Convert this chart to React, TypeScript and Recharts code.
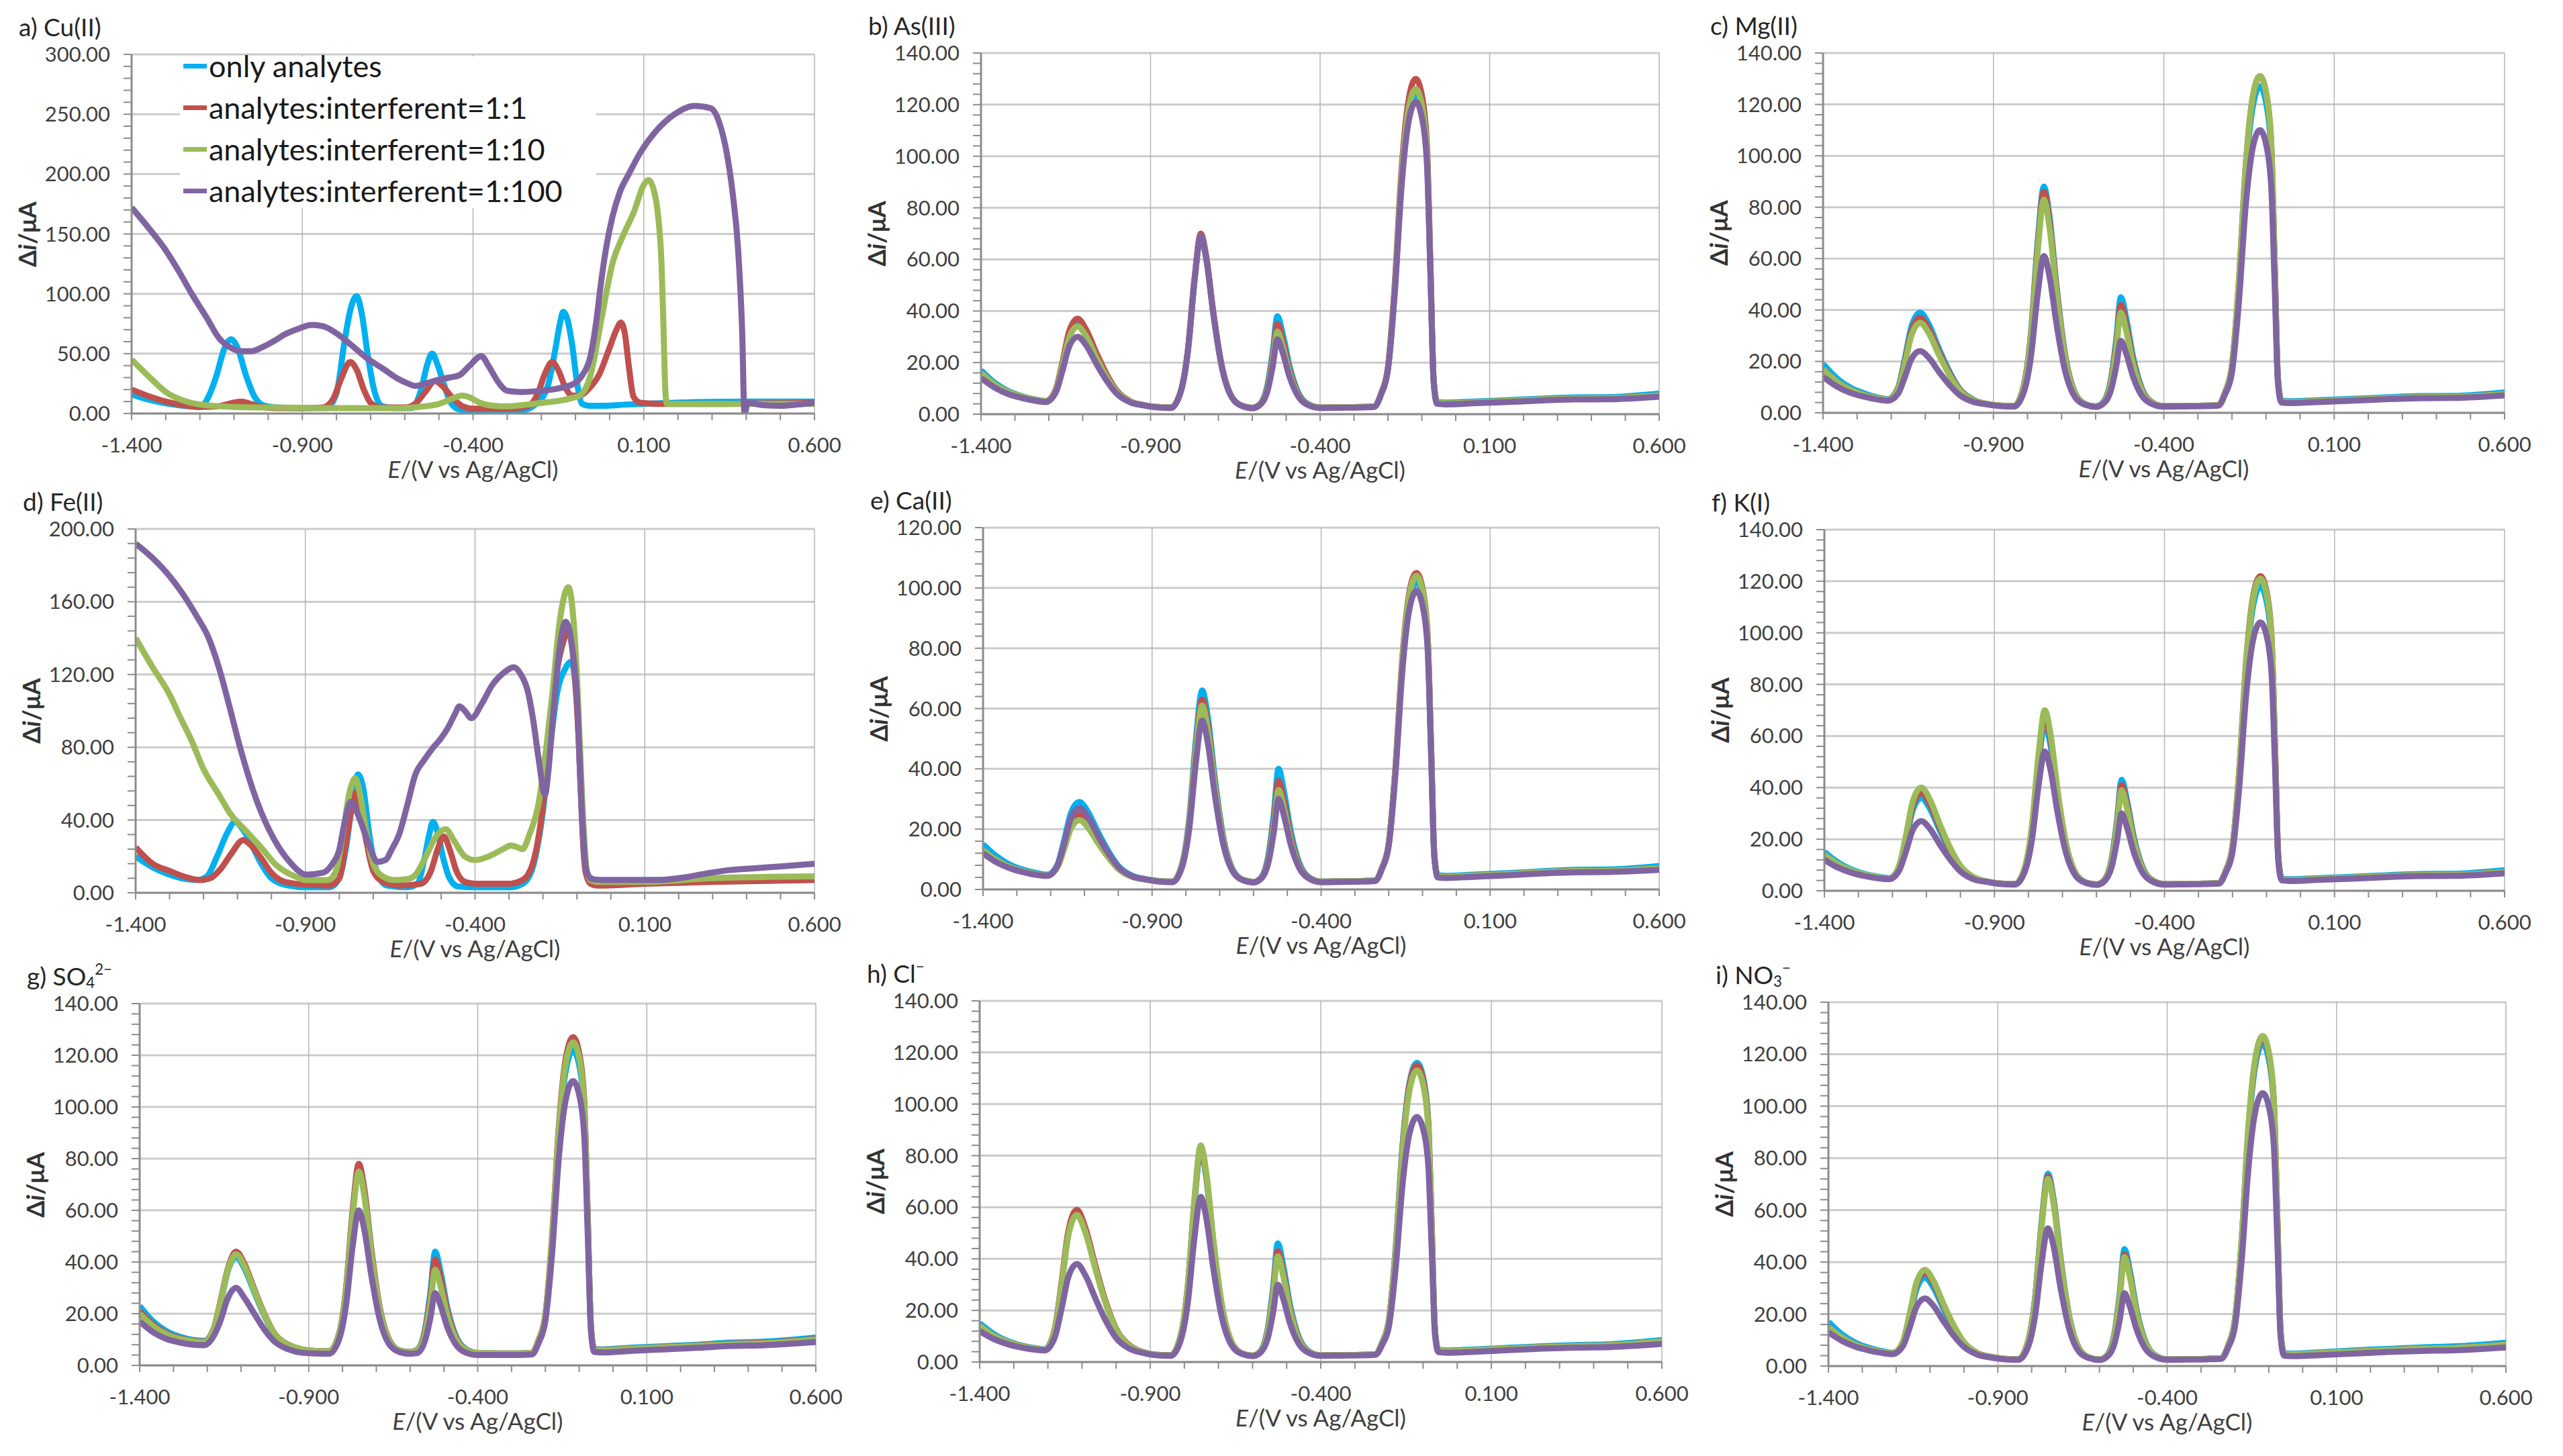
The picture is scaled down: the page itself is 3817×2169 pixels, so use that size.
import React from 'react';
import { LineChart, Line, XAxis, YAxis, CartesianGrid } from 'recharts';

const FONT = 'Lato, "Open Sans", "DejaVu Sans", sans-serif';
const TEXT = '#404040';
const AXIS = '#8c8c8c';

const NAMES = ['only analytes', 'analytes:interferent=1:1', 'analytes:interferent=1:10', 'analytes:interferent=1:100'];
const COLORS = ['#00B0F0', '#C0504D', '#9BBB59', '#8064A2'];

const X_TICKS = [-1.4, -1.3, -1.2, -1.1, -1.0, -0.9, -0.8, -0.7, -0.6, -0.5, -0.4, -0.3, -0.2, -0.1, 0, 0.1, 0.2, 0.3, 0.4, 0.5, 0.6];
const X_MAJOR = [-1.4, -0.9, -0.4, 0.1, 0.6];

const Y_MAJOR_A = [0, 50, 100, 150, 200, 250, 300];
const Y_MAJOR_D = [0, 40, 80, 120, 160, 200];
const Y_MAJOR_E = [0, 20, 40, 60, 80, 100, 120];
const Y_MAJOR_STD = [0, 20, 40, 60, 80, 100, 120, 140];

// potentials shared by panels b, c, e-i
const X_STD = [
  -1.40, -1.36, -1.32, -1.28, -1.24, -1.21,
  -1.18, -1.16, -1.14, -1.115, -1.09, -1.06, -1.03, -1.00, -0.96, -0.92,
  -0.88, -0.84,
  -0.81, -0.79, -0.77, -0.752, -0.735, -0.715, -0.69, -0.66, -0.63,
  -0.60,
  -0.58, -0.555, -0.54, -0.526, -0.51, -0.49, -0.465, -0.44,
  -0.40, -0.34, -0.28, -0.24,
  -0.22, -0.20, -0.18, -0.16, -0.14, -0.118, -0.10, -0.085, -0.075, -0.065,
  -0.055, -0.03, 0.05, 0.15, 0.25, 0.35, 0.45, 0.60,
];

// a) Cu(II) — [E, Δi]
const A_BLUE = [
  [-1.40, 16], [-1.35, 11.5], [-1.30, 8.5], [-1.25, 6.5], [-1.20, 5.5], [-1.17, 17], [-1.15, 33], [-1.13, 53], [-1.109, 62],
  [-1.09, 55], [-1.064, 31], [-1.04, 14], [-1.016, 7], [-0.98, 5], [-0.90, 4.5], [-0.83, 4.5], [-0.80, 17], [-0.776, 61],
  [-0.758, 88], [-0.741, 98], [-0.725, 82], [-0.709, 50], [-0.69, 20], [-0.665, 6], [-0.63, 4.5], [-0.58, 4.5], [-0.552, 20],
  [-0.535, 40], [-0.52, 50], [-0.503, 40], [-0.485, 24], [-0.465, 9], [-0.44, 3.5], [-0.40, 2.5], [-0.30, 2.5], [-0.25, 3],
  [-0.22, 7], [-0.20, 12], [-0.18, 24], [-0.16, 52], [-0.145, 76], [-0.136, 85], [-0.125, 80], [-0.11, 58], [-0.095, 25],
  [-0.08, 8], [-0.06, 6.5], [-0.02, 6.5], [0.05, 7.5], [0.14, 8.5], [0.25, 9.5], [0.40, 10], [0.60, 10],
];
const A_RED = [
  [-1.40, 20], [-1.35, 14.5], [-1.30, 10], [-1.25, 7], [-1.20, 5.5], [-1.15, 6], [-1.11, 8.5], [-1.08, 10], [-1.05, 8],
  [-1.02, 5.5], [-0.98, 4.5], [-0.90, 4.5], [-0.84, 5], [-0.81, 12], [-0.785, 30], [-0.76, 43], [-0.74, 36], [-0.72, 20],
  [-0.70, 9], [-0.67, 5], [-0.60, 5], [-0.57, 8], [-0.54, 18], [-0.512, 27], [-0.49, 23], [-0.46, 13], [-0.43, 6], [-0.40, 4],
  [-0.30, 4], [-0.24, 6], [-0.21, 17], [-0.19, 33], [-0.168, 43], [-0.15, 36], [-0.13, 22], [-0.11, 15], [-0.09, 15],
  [-0.06, 21], [-0.03, 33], [0.0, 55], [0.02, 70], [0.033, 76], [0.045, 66], [0.056, 40], [0.07, 14], [0.09, 9], [0.15, 8],
  [0.30, 8], [0.45, 8.5], [0.60, 9],
];
const A_GREEN = [
  [-1.40, 45], [-1.35, 31], [-1.30, 18], [-1.25, 11], [-1.20, 7.5], [-1.10, 5.5], [-1.00, 5], [-0.80, 4.5], [-0.62, 4.5],
  [-0.56, 5.5], [-0.50, 8], [-0.46, 12.5], [-0.432, 15], [-0.41, 13.5], [-0.38, 9], [-0.34, 6.5], [-0.30, 6], [-0.24, 7.5],
  [-0.18, 9.5], [-0.14, 11], [-0.11, 13], [-0.088, 15], [-0.056, 32], [-0.024, 79], [0.008, 125], [0.04, 149], [0.072, 169],
  [0.10, 191], [0.114, 195], [0.13, 186], [0.142, 165], [0.152, 125], [0.158, 70], [0.163, 20], [0.168, 8], [0.20, 8],
  [0.40, 8], [0.60, 8],
];
const A_PURPLE = [
  [-1.40, 172], [-1.35, 155], [-1.304, 138], [-1.26, 118], [-1.224, 100], [-1.18, 80], [-1.144, 63], [-1.11, 55], [-1.08, 52],
  [-1.05, 52], [-1.02, 55], [-0.98, 61], [-0.952, 66], [-0.91, 71], [-0.872, 74], [-0.84, 73], [-0.80, 67], [-0.76, 58],
  [-0.71, 46], [-0.664, 37.5], [-0.62, 29], [-0.59, 25], [-0.568, 23], [-0.54, 25], [-0.504, 28], [-0.47, 30], [-0.44, 32],
  [-0.41, 40], [-0.376, 48], [-0.355, 40], [-0.328, 27], [-0.30, 19], [-0.26, 18], [-0.20, 19], [-0.15, 21], [-0.104, 25],
  [-0.08, 32], [-0.056, 48], [-0.04, 75], [-0.024, 112], [-0.008, 142], [0.008, 164], [0.03, 185], [0.056, 200], [0.09, 218],
  [0.136, 236], [0.19, 250], [0.248, 257], [0.296, 255], [0.32, 244], [0.344, 216], [0.36, 185], [0.376, 138], [0.388, 70],
  [0.395, 0], [0.405, 9], [0.45, 7], [0.50, 6.5], [0.55, 7.5], [0.60, 9],
];

// d) Fe(II) — [E, Δi]
const D_BLUE = [
  [-1.40, 20], [-1.35, 14], [-1.30, 10], [-1.25, 7.5], [-1.22, 7], [-1.19, 9], [-1.16, 20], [-1.13, 33], [-1.107, 39],
  [-1.085, 35], [-1.06, 27], [-1.03, 16], [-1.00, 8], [-0.95, 4], [-0.90, 3], [-0.83, 3], [-0.80, 8], [-0.78, 25], [-0.76, 52],
  [-0.745, 65], [-0.73, 58], [-0.71, 30], [-0.69, 12], [-0.66, 4], [-0.60, 3], [-0.57, 5], [-0.55, 18], [-0.535, 32],
  [-0.524, 39], [-0.51, 33], [-0.495, 20], [-0.475, 8], [-0.45, 3.5], [-0.40, 3], [-0.30, 3], [-0.26, 5], [-0.23, 14],
  [-0.20, 45], [-0.18, 78], [-0.16, 108], [-0.135, 123], [-0.117, 127], [-0.10, 105], [-0.088, 55], [-0.078, 18],
  [-0.065, 9], [-0.04, 7], [0.10, 7], [0.30, 7.5], [0.60, 8],
];
const D_RED = [
  [-1.40, 25], [-1.35, 16], [-1.30, 12], [-1.25, 8.5], [-1.21, 7], [-1.18, 8], [-1.15, 13], [-1.12, 21], [-1.083, 29],
  [-1.06, 26], [-1.03, 19], [-1.00, 11], [-0.96, 6], [-0.90, 4.5], [-0.83, 4], [-0.80, 8], [-0.78, 28], [-0.765, 45],
  [-0.753, 55], [-0.74, 48], [-0.72, 28], [-0.70, 12], [-0.67, 6], [-0.62, 4], [-0.56, 5], [-0.53, 12], [-0.51, 24],
  [-0.492, 31], [-0.475, 24], [-0.455, 12], [-0.43, 6], [-0.40, 5], [-0.30, 5], [-0.26, 7], [-0.23, 16], [-0.20, 48],
  [-0.18, 85], [-0.16, 120], [-0.14, 138], [-0.125, 144], [-0.11, 128], [-0.095, 85], [-0.085, 40], [-0.075, 12],
  [-0.06, 5], [-0.04, 4], [0.10, 5], [0.30, 6], [0.60, 7],
];
const D_GREEN = [
  [-1.40, 140], [-1.35, 124], [-1.30, 109], [-1.27, 97], [-1.236, 84], [-1.20, 68], [-1.155, 54], [-1.123, 44], [-1.075, 34],
  [-1.026, 24], [-0.99, 16], [-0.962, 12], [-0.93, 9], [-0.898, 7], [-0.834, 7], [-0.81, 12], [-0.79, 32], [-0.77, 55],
  [-0.753, 63], [-0.74, 55], [-0.72, 33], [-0.70, 16], [-0.672, 9], [-0.64, 7], [-0.60, 7.5], [-0.575, 10], [-0.545, 20],
  [-0.515, 31], [-0.487, 35], [-0.46, 28], [-0.43, 20], [-0.40, 18], [-0.36, 20], [-0.318, 24], [-0.294, 26], [-0.275, 25],
  [-0.26, 24], [-0.24, 32], [-0.213, 49], [-0.19, 80], [-0.173, 108], [-0.15, 150], [-0.125, 168], [-0.11, 150], [-0.10, 120],
  [-0.084, 50], [-0.072, 14], [-0.06, 7], [-0.04, 6], [0.10, 6], [0.30, 8], [0.60, 9],
];
const D_PURPLE = [
  [-1.40, 192], [-1.35, 184], [-1.30, 174], [-1.26, 164], [-1.22, 152], [-1.187, 141], [-1.155, 124], [-1.123, 102],
  [-1.091, 79], [-1.042, 50], [-0.994, 30], [-0.946, 17], [-0.898, 10], [-0.849, 11], [-0.82, 16], [-0.801, 23], [-0.785, 38],
  [-0.766, 50], [-0.745, 43], [-0.729, 35], [-0.71, 25], [-0.688, 17], [-0.664, 18], [-0.645, 24], [-0.624, 32], [-0.60, 48],
  [-0.576, 65], [-0.55, 73], [-0.527, 79], [-0.50, 85], [-0.479, 91], [-0.46, 98], [-0.446, 102.5], [-0.43, 100],
  [-0.411, 96], [-0.38, 104], [-0.35, 114], [-0.315, 121], [-0.286, 124], [-0.265, 120], [-0.245, 111], [-0.228, 94],
  [-0.213, 74], [-0.194, 54], [-0.185, 65], [-0.173, 91], [-0.155, 128], [-0.133, 149], [-0.118, 140], [-0.10, 108],
  [-0.084, 40], [-0.072, 12], [-0.055, 7.5], [-0.028, 7], [0.133, 7], [0.20, 8], [0.294, 11], [0.35, 12.5], [0.423, 13.5],
  [0.50, 14.5], [0.60, 16],
];

// b) As(III)
const B_BLUE = [17, 12.2, 9.0, 7.0, 5.7, 5.1,
  9.1, 19.1, 30.4, 35, 31.1, 22.6, 14.9, 8.9, 4.9, 3.5,
  2.8, 2.6,
  9.2, 24.4, 52.4, 69, 59.7, 39.1, 18.5, 6.5, 3.2,
  2.5,
  3.6, 11.4, 23.8, 38, 30.9, 18.5, 8.5, 4.3,
  2.6, 2.7, 2.8, 3.0,
  7.8, 17.5, 47.8, 90.1, 115.5, 124, 118.0, 99.8, 57.5, 12.7,
  4.8, 4.5, 4.9, 5.4, 6.0, 6.5, 6.6, 8.0];
const B_RED = [16, 11.6, 8.6, 6.8, 5.6, 5.0,
  9.4, 20.1, 32.1, 37, 32.8, 23.8, 15.6, 9.2, 5.0, 3.5,
  2.8, 2.6,
  9.3, 24.8, 53.1, 70, 60.6, 39.6, 18.7, 6.6, 3.2,
  2.5,
  3.5, 10.6, 22.0, 35, 28.5, 17.1, 8.0, 4.1,
  2.6, 2.7, 2.8, 3.0,
  8.1, 18.2, 50.0, 94.4, 121.1, 130, 123.7, 104.6, 60.2, 13.2,
  4.5, 4.2, 4.6, 5.1, 5.7, 6.1, 6.2, 7.3];
const B_GREEN = [16, 11.6, 8.6, 6.8, 5.6, 5.0,
  8.9, 18.7, 29.6, 34, 30.2, 22.0, 14.5, 8.7, 4.9, 3.5,
  2.8, 2.6,
  9.2, 24.4, 52.4, 69, 59.7, 39.1, 18.5, 6.5, 3.2,
  2.5,
  3.4, 9.9, 20.2, 32, 26.1, 15.8, 7.5, 4.0,
  2.6, 2.7, 2.8, 3.0,
  7.9, 17.8, 48.5, 91.6, 117.4, 126, 119.9, 101.4, 58.4, 12.8,
  4.5, 4.2, 4.6, 5.1, 5.7, 6.1, 6.2, 7.3];
const B_PURPLE = [14, 10.3, 7.8, 6.3, 5.2, 4.7,
  8.3, 16.7, 26.2, 30, 26.7, 19.6, 13.1, 8.0, 4.6, 3.4,
  2.6, 2.4,
  9.2, 24.4, 52.4, 69, 59.7, 39.1, 18.5, 6.5, 3.2,
  2.3,
  3.3, 9.1, 18.4, 29, 23.7, 14.4, 7.0, 3.8,
  2.4, 2.5, 2.6, 2.8,
  7.7, 17.2, 46.7, 88.0, 112.7, 121, 115.1, 97.4, 56.1, 12.4,
  4.0, 3.8, 4.2, 4.7, 5.3, 5.7, 5.8, 6.8];

// c) Mg(II)
const C_BLUE = [19, 13.5, 9.8, 7.6, 6.0, 5.3,
  9.7, 21.1, 33.8, 39, 34.5, 25.0, 16.3, 9.5, 5.2, 3.5,
  2.8, 2.6,
  11.1, 30.7, 66.6, 88, 76.0, 49.5, 23.0, 7.6, 3.4,
  2.5,
  3.8, 13.1, 28.0, 45, 36.5, 21.6, 9.7, 4.6,
  2.6, 2.7, 2.8, 3.0,
  8.0, 17.9, 48.9, 92.3, 118.3, 127, 120.8, 102.2, 58.8, 12.9,
  4.8, 4.5, 4.9, 5.4, 6.0, 6.5, 6.6, 8.0];
const C_RED = [17, 12.2, 9.0, 7.0, 5.7, 5.1,
  9.4, 20.1, 32.1, 37, 32.8, 23.8, 15.6, 9.2, 5.0, 3.5,
  2.8, 2.6,
  10.9, 30.1, 65.1, 86, 74.3, 48.4, 22.5, 7.5, 3.3,
  2.5,
  3.7, 12.4, 26.2, 42, 34.1, 20.3, 9.2, 4.5,
  2.6, 2.7, 2.8, 3.0,
  8.1, 18.4, 50.4, 95.2, 122.0, 131, 124.6, 105.4, 60.6, 13.2,
  4.5, 4.2, 4.6, 5.1, 5.7, 6.1, 6.2, 7.3];
const C_GREEN = [17, 12.2, 9.0, 7.0, 5.7, 5.1,
  9.1, 19.1, 30.4, 35, 31.1, 22.6, 14.9, 8.9, 4.9, 3.5,
  2.8, 2.6,
  10.5, 29.1, 62.9, 83, 71.7, 46.8, 21.8, 7.3, 3.3,
  2.5,
  3.6, 11.6, 24.4, 39, 31.7, 18.9, 8.7, 4.3,
  2.6, 2.7, 2.8, 3.0,
  8.1, 18.4, 50.4, 95.2, 122.0, 131, 124.6, 105.4, 60.6, 13.2,
  4.5, 4.2, 4.6, 5.1, 5.7, 6.1, 6.2, 7.3];
const C_PURPLE = [14, 10.3, 7.8, 6.3, 5.2, 4.7,
  7.4, 13.9, 21.1, 24, 21.5, 16.0, 11.0, 7.0, 4.3, 3.3,
  2.6, 2.4,
  8.4, 21.8, 46.4, 61, 52.8, 34.7, 16.5, 6.0, 3.1,
  2.3,
  3.3, 8.9, 17.8, 28, 22.9, 14.0, 6.8, 3.8,
  2.4, 2.5, 2.6, 2.8,
  7.3, 15.8, 42.6, 80.0, 102.5, 110, 104.6, 88.6, 51.2, 11.6,
  4.0, 3.8, 4.2, 4.7, 5.3, 5.7, 5.8, 6.8];

// e) Ca(II)
const E_BLUE = [15, 11.0, 8.2, 6.5, 5.4, 4.9,
  8.2, 16.3, 25.3, 29, 25.8, 19.0, 12.8, 7.8, 4.6, 3.4,
  2.8, 2.6,
  8.9, 23.5, 50.1, 66, 57.1, 37.4, 17.7, 6.3, 3.1,
  2.5,
  3.6, 11.9, 25.0, 40, 32.5, 19.4, 8.9, 4.4,
  2.6, 2.7, 2.8, 3.0,
  7.0, 14.9, 39.6, 74.3, 95.1, 102, 97.1, 82.2, 47.6, 10.9,
  4.8, 4.5, 4.9, 5.4, 6.0, 6.5, 6.6, 7.8];
const E_RED = [13, 9.7, 7.4, 6.0, 5.0, 4.6,
  7.6, 14.3, 21.9, 25, 22.3, 16.6, 11.4, 7.2, 4.3, 3.3,
  2.8, 2.6,
  8.6, 22.5, 47.9, 63, 54.5, 35.8, 17.0, 6.1, 3.1,
  2.5,
  3.5, 10.9, 22.6, 36, 29.3, 17.6, 8.2, 4.2,
  2.6, 2.7, 2.8, 3.0,
  7.1, 15.2, 40.7, 76.4, 97.9, 105, 99.9, 84.6, 48.9, 11.2,
  4.5, 4.2, 4.6, 5.1, 5.7, 6.1, 6.2, 7.0];
const E_GREEN = [13, 9.7, 7.4, 6.0, 5.0, 4.6,
  7.3, 13.4, 20.2, 23, 20.6, 15.4, 10.7, 6.8, 4.2, 3.3,
  2.8, 2.6,
  8.4, 21.8, 46.4, 61, 52.8, 34.7, 16.5, 6.0, 3.1,
  2.5,
  3.4, 10.1, 20.8, 33, 26.9, 16.2, 7.7, 4.0,
  2.6, 2.7, 2.8, 3.0,
  7.0, 15.1, 40.4, 75.7, 96.9, 104, 99.0, 83.8, 48.5, 11.1,
  4.5, 4.2, 4.6, 5.1, 5.7, 6.1, 6.2, 7.0];
const E_PURPLE = [12, 9.0, 7.0, 5.7, 4.8, 4.5,
  7.9, 15.3, 23.6, 27, 24.1, 17.8, 12.1, 7.5, 4.4, 3.4,
  2.6, 2.4,
  7.9, 20.2, 42.6, 56, 48.5, 31.9, 15.3, 5.7, 3.0,
  2.3,
  3.3, 9.4, 19.0, 30, 24.5, 14.9, 7.2, 3.9,
  2.4, 2.5, 2.6, 2.8,
  6.8, 14.5, 38.5, 72.1, 92.3, 99, 94.2, 79.8, 46.2, 10.7,
  4.0, 3.8, 4.2, 4.7, 5.3, 5.7, 5.8, 6.5];

// f) K(I)
const F_BLUE = [15, 11.0, 8.2, 6.5, 5.4, 4.9,
  9.2, 19.6, 31.3, 36, 31.9, 23.2, 15.2, 9.0, 5.0, 3.5,
  2.8, 2.6,
  8.8, 23.1, 49.4, 65, 56.3, 36.9, 17.5, 6.3, 3.1,
  2.5,
  3.7, 12.6, 26.8, 43, 34.9, 20.7, 9.4, 4.5,
  2.6, 2.7, 2.8, 3.0,
  7.6, 16.8, 45.6, 85.8, 110.0, 118, 112.3, 95.0, 54.8, 12.2,
  4.8, 4.5, 4.9, 5.4, 6.0, 6.5, 6.6, 8.0];
const F_RED = [13, 9.7, 7.4, 6.0, 5.0, 4.6,
  9.5, 20.6, 33.0, 38, 33.6, 24.4, 15.9, 9.3, 5.1, 3.5,
  2.8, 2.6,
  9.1, 24.1, 51.6, 68, 58.8, 38.5, 18.2, 6.4, 3.2,
  2.5,
  3.7, 12.1, 25.6, 41, 33.3, 19.8, 9.0, 4.4,
  2.6, 2.7, 2.8, 3.0,
  7.8, 17.3, 47.0, 88.7, 113.7, 122, 116.1, 98.2, 56.6, 12.5,
  4.5, 4.2, 4.6, 5.1, 5.7, 6.1, 6.2, 7.3];
const F_GREEN = [14, 10.3, 7.8, 6.3, 5.2, 4.7,
  9.8, 21.5, 34.7, 40, 35.4, 25.6, 16.6, 9.7, 5.2, 3.6,
  2.8, 2.6,
  9.3, 24.8, 53.1, 70, 60.6, 39.6, 18.7, 6.6, 3.2,
  2.5,
  3.6, 11.6, 24.4, 39, 31.7, 18.9, 8.7, 4.3,
  2.6, 2.7, 2.8, 3.0,
  7.7, 17.2, 46.7, 88.0, 112.7, 121, 115.1, 97.4, 56.1, 12.4,
  4.5, 4.2, 4.6, 5.1, 5.7, 6.1, 6.2, 7.3];
const F_PURPLE = [12, 9.0, 7.0, 5.7, 4.8, 4.5,
  7.9, 15.3, 23.6, 27, 24.1, 17.8, 12.1, 7.5, 4.4, 3.4,
  2.6, 2.4,
  7.7, 19.5, 41.1, 54, 46.8, 30.8, 14.9, 5.6, 3.0,
  2.3,
  3.3, 9.4, 19.0, 30, 24.5, 14.9, 7.2, 3.9,
  2.4, 2.5, 2.6, 2.8,
  7.0, 15.1, 40.4, 75.7, 96.9, 104, 99.0, 83.8, 48.5, 11.1,
  4.0, 3.8, 4.2, 4.7, 5.3, 5.7, 5.8, 6.8];

// g) SO4 2-
const G_BLUE = [23, 17.0, 13.2, 11.0, 9.8, 9.5,
  14.4, 24.5, 36.1, 42, 37.5, 28.0, 18.9, 11.8, 8.0, 6.1,
  5.6, 5.5,
  12.2, 28.8, 59.0, 77, 66.9, 44.6, 22.3, 9.3, 5.7,
  5.2,
  6.0, 14.6, 28.3, 44, 36.2, 22.4, 11.5, 6.8,
  4.8, 4.6, 4.6, 4.8,
  9.7, 19.0, 48.3, 89.2, 113.8, 122, 116.2, 98.6, 57.7, 14.4,
  6.3, 6.2, 6.8, 7.4, 8.0, 8.8, 9.2, 10.8];
const G_RED = [21, 15.8, 12.4, 10.5, 9.5, 9.2,
  14.7, 25.5, 37.0, 44, 39.3, 29.2, 19.6, 12.1, 8.0, 6.2,
  5.6, 5.5,
  12.3, 29.1, 59.8, 78, 67.8, 45.2, 22.5, 9.4, 5.7,
  5.2,
  5.9, 13.9, 26.5, 41, 33.8, 21.1, 11.0, 6.6,
  4.8, 4.6, 4.6, 4.8,
  9.9, 19.6, 50.1, 92.8, 118.5, 127, 120.9, 102.6, 59.9, 14.8,
  6.2, 6.0, 6.5, 7.1, 7.7, 8.4, 8.8, 10.2];
const G_GREEN = [20, 15.2, 12.0, 10.2, 9.3, 9.0,
  14.5, 25.0, 36.5, 43, 38.4, 28.6, 19.3, 11.9, 8.0, 6.2,
  5.6, 5.5,
  12.0, 28.1, 57.5, 75, 65.2, 43.5, 21.8, 9.2, 5.7,
  5.2,
  5.8, 12.9, 24.1, 37, 30.6, 19.3, 10.3, 6.4,
  4.8, 4.6, 4.6, 4.8,
  9.8, 19.4, 49.4, 91.4, 116.6, 125, 119.0, 101.0, 59.0, 14.6,
  6.0, 5.9, 6.4, 7.0, 7.6, 8.2, 8.6, 10.0];
const G_PURPLE = [17, 12.8, 10.2, 8.8, 8.0, 7.8,
  11.6, 17.7, 25.8, 30, 26.1, 19.8, 13.7, 9.1, 6.2, 4.9,
  4.6, 4.5,
  10.1, 22.8, 46.1, 60, 52.2, 35.0, 17.8, 7.8, 5.1,
  4.5,
  4.7, 10.0, 18.4, 28, 23.2, 14.8, 8.1, 5.2,
  4.0, 4.0, 4.0, 4.2,
  8.7, 17.2, 43.5, 80.5, 102.6, 110, 104.7, 88.9, 52.0, 13.0,
  5.2, 5.0, 5.6, 6.2, 6.8, 7.5, 7.8, 9.0];

// h) Cl-
const H_BLUE = [15, 11.0, 8.2, 6.5, 5.4, 4.9,
  12.5, 30.2, 50.0, 58, 51.0, 36.4, 22.9, 12.8, 6.3, 3.8,
  2.8, 2.6,
  10.5, 28.7, 62.1, 82, 70.9, 46.2, 21.6, 7.3, 3.3,
  2.5,
  3.8, 13.4, 28.6, 46, 37.3, 22.1, 9.9, 4.7,
  2.6, 2.7, 2.8, 3.0,
  7.5, 16.6, 44.8, 84.4, 108.1, 116, 110.4, 93.4, 53.9, 12.0,
  4.8, 4.5, 4.9, 5.5, 6.1, 6.6, 6.9, 8.5];
const H_RED = [14, 10.3, 7.8, 6.3, 5.2, 4.7,
  12.7, 30.7, 50.8, 59, 51.9, 37.0, 23.2, 12.9, 6.4, 3.8,
  2.8, 2.6,
  10.5, 29.1, 62.9, 83, 71.7, 46.8, 21.8, 7.3, 3.3,
  2.5,
  3.7, 12.6, 26.8, 43, 34.9, 20.7, 9.4, 4.5,
  2.6, 2.7, 2.8, 3.0,
  7.5, 16.4, 44.4, 83.6, 107.2, 115, 109.4, 92.6, 53.4, 12.0,
  4.5, 4.2, 4.6, 5.2, 5.8, 6.2, 6.5, 8.0];
const H_GREEN = [14, 10.3, 7.8, 6.3, 5.2, 4.7,
  12.4, 29.7, 49.1, 57, 50.2, 35.8, 22.5, 12.6, 6.2, 3.8,
  2.8, 2.6,
  10.7, 29.4, 63.6, 84, 72.6, 47.3, 22.1, 7.4, 3.3,
  2.5,
  3.7, 12.1, 25.6, 41, 33.3, 19.8, 9.0, 4.4,
  2.6, 2.7, 2.8, 3.0,
  7.4, 16.2, 43.7, 82.2, 105.3, 113, 107.5, 91.0, 52.5, 11.8,
  4.5, 4.2, 4.6, 5.2, 5.8, 6.2, 6.5, 8.0];
const H_PURPLE = [12, 9.0, 7.0, 5.7, 4.8, 4.5,
  9.5, 20.6, 33.0, 38, 33.6, 24.4, 15.9, 9.3, 5.1, 3.5,
  2.6, 2.4,
  8.7, 22.8, 48.6, 64, 55.4, 36.3, 17.3, 6.2, 3.1,
  2.3,
  3.3, 9.4, 19.0, 30, 24.5, 14.9, 7.2, 3.9,
  2.4, 2.5, 2.6, 2.8,
  6.7, 14.0, 37.0, 69.2, 88.6, 95, 90.4, 76.6, 44.4, 10.4,
  3.8, 3.6, 4.0, 4.6, 5.2, 5.6, 5.8, 7.0];

// i) NO3-
const I_BLUE = [17, 12.2, 9.0, 7.0, 5.7, 5.1,
  8.9, 18.7, 29.6, 34, 30.2, 22.0, 14.5, 8.7, 4.9, 3.5,
  2.8, 2.6,
  9.7, 26.1, 56.1, 74, 64.0, 41.8, 19.7, 6.8, 3.2,
  2.5,
  3.8, 13.1, 28.0, 45, 36.5, 21.6, 9.7, 4.6,
  2.6, 2.7, 2.8, 3.0,
  7.8, 17.5, 47.8, 90.1, 115.5, 124, 118.0, 99.8, 57.5, 12.7,
  5.0, 4.8, 5.3, 6.0, 6.6, 7.2, 7.6, 9.0];
const I_RED = [15, 11.0, 8.2, 6.5, 5.4, 4.9,
  9.2, 19.6, 31.3, 36, 31.9, 23.2, 15.2, 9.0, 5.0, 3.5,
  2.8, 2.6,
  9.6, 25.8, 55.4, 73, 63.1, 41.3, 19.4, 6.7, 3.2,
  2.5,
  3.7, 12.6, 26.8, 43, 34.9, 20.7, 9.4, 4.5,
  2.6, 2.7, 2.8, 3.0,
  7.9, 17.8, 48.5, 91.6, 117.4, 126, 119.9, 101.4, 58.4, 12.8,
  4.7, 4.5, 5.0, 5.6, 6.2, 6.7, 7.0, 8.2];
const I_GREEN = [15, 11.0, 8.2, 6.5, 5.4, 4.9,
  9.4, 20.1, 32.1, 37, 32.8, 23.8, 15.6, 9.2, 5.0, 3.5,
  2.8, 2.6,
  9.5, 25.4, 54.6, 72, 62.3, 40.7, 19.2, 6.7, 3.2,
  2.5,
  3.7, 12.4, 26.2, 42, 34.1, 20.3, 9.2, 4.5,
  2.6, 2.7, 2.8, 3.0,
  8.0, 17.9, 48.9, 92.3, 118.3, 127, 120.8, 102.2, 58.8, 12.9,
  4.7, 4.5, 5.0, 5.6, 6.2, 6.7, 7.0, 8.2];
const I_PURPLE = [13, 9.7, 7.4, 6.0, 5.0, 4.6,
  7.7, 14.8, 22.8, 26, 23.2, 17.2, 11.7, 7.4, 4.4, 3.3,
  2.6, 2.4,
  7.6, 19.2, 40.4, 53, 45.9, 30.3, 14.6, 5.5, 3.0,
  2.3,
  3.3, 8.9, 17.8, 28, 22.9, 14.0, 6.8, 3.8,
  2.4, 2.5, 2.6, 2.8,
  7.1, 15.2, 40.7, 76.4, 97.9, 105, 99.9, 84.6, 48.9, 11.2,
  4.0, 3.8, 4.2, 4.8, 5.4, 5.8, 6.1, 7.2];

type Pt = { x: number; y: number };
const zip = (ys: number[]): Pt[] => X_STD.map((x, i) => ({ x, y: ys[i] }));
const pairs = (ps: number[][]): Pt[] => ps.map(([x, y]) => ({ x, y }));

// 5 minor divisions per major step
function minorOf(major: number[]) {
  const step = (major[1] - major[0]) / 5;
  const top = major[major.length - 1];
  const out: number[] = [];
  for (let i = 0; i * step <= top + 1e-9; i++) out.push(Math.round(i * step * 1000) / 1000);
  return out;
}

function Sub({ children }: { children: React.ReactNode }) {
  return <span style={{ fontSize: '0.6em', verticalAlign: 'baseline', position: 'relative', top: '0.2em', lineHeight: 0 }}>{children}</span>;
}
function Sup({ children }: { children: React.ReactNode }) {
  return <span style={{ fontSize: '0.6em', verticalAlign: 'baseline', position: 'relative', top: '-0.7em', lineHeight: 0 }}>{children}</span>;
}

const PANELS = [
  { key: 'a', title: <>a) Cu(II)</>, L: 196, R: 1213, T: 81, B: 616, yMajor: Y_MAJOR_A,
    series: [pairs(A_BLUE), pairs(A_RED), pairs(A_GREEN), pairs(A_PURPLE)] },
  { key: 'b', title: <>b) As(III)</>, L: 1461, R: 2471, T: 79, B: 617, yMajor: Y_MAJOR_STD,
    series: [zip(B_BLUE), zip(B_RED), zip(B_GREEN), zip(B_PURPLE)] },
  { key: 'c', title: <>c) Mg(II)</>, L: 2715, R: 3730, T: 79, B: 615, yMajor: Y_MAJOR_STD,
    series: [zip(C_BLUE), zip(C_RED), zip(C_GREEN), zip(C_PURPLE)] },
  { key: 'd', title: <>d) Fe(II)</>, L: 202, R: 1213, T: 788, B: 1330, yMajor: Y_MAJOR_D,
    series: [pairs(D_BLUE), pairs(D_RED), pairs(D_GREEN), pairs(D_PURPLE)] },
  { key: 'e', title: <>e) Ca(II)</>, L: 1464, R: 2471, T: 786, B: 1325, yMajor: Y_MAJOR_E,
    series: [zip(E_BLUE), zip(E_RED), zip(E_GREEN), zip(E_PURPLE)] },
  { key: 'f', title: <>f) K(I)</>, L: 2717, R: 3730, T: 789, B: 1327, yMajor: Y_MAJOR_STD,
    series: [zip(F_BLUE), zip(F_RED), zip(F_GREEN), zip(F_PURPLE)] },
  { key: 'g', title: <>g) SO<Sub>4</Sub><Sup>2−</Sup></>, L: 208, R: 1215, T: 1495, B: 2034, yMajor: Y_MAJOR_STD,
    series: [zip(G_BLUE), zip(G_RED), zip(G_GREEN), zip(G_PURPLE)] },
  { key: 'h', title: <>h) Cl<Sup>−</Sup></>, L: 1459, R: 2475, T: 1491, B: 2029, yMajor: Y_MAJOR_STD,
    series: [zip(H_BLUE), zip(H_RED), zip(H_GREEN), zip(H_PURPLE)] },
  { key: 'i', title: <>i) NO<Sub>3</Sub><Sup>−</Sup></>, L: 2723, R: 3732, T: 1493, B: 2035, yMajor: Y_MAJOR_STD,
    series: [zip(I_BLUE), zip(I_RED), zip(I_GREEN), zip(I_PURPLE)] },
];

const YW = 150; // y-axis band
const MT = 20;
const MR = 70;
const XH = 70;

const isMajorX = (v: number) => X_MAJOR.some((m) => Math.abs(m - v) < 1e-6);

function XTick(props: any) {
  const { x, y, payload } = props;
  if (!isMajorX(payload.value)) return null;
  return (
    <text x={x} y={y} dy="0.71em" textAnchor="middle" fill={TEXT} fontSize={31} fontFamily={FONT}>
      {payload.value.toFixed(3)}
    </text>
  );
}

function makeYTick(major: number[]) {
  return (props: any) => {
    const { x, y, payload } = props;
    if (!major.some((m) => Math.abs(m - payload.value) < 1e-6)) return null;
    return (
      <text x={x} y={y} dy="0.355em" textAnchor="end" fill={TEXT} fontSize={31} fontFamily={FONT}>
        {payload.value.toFixed(2)}
      </text>
    );
  };
}

function Panel({ p }: { p: typeof PANELS[number] }) {
  const plotW = p.R - p.L;
  const plotH = p.B - p.T;
  const yMax = p.yMajor[p.yMajor.length - 1];
  return (
    <>
      <div style={{ position: 'absolute', left: p.L - YW, top: p.T - MT }}>
        <LineChart width={YW + plotW + MR} height={MT + plotH + XH} margin={{ top: MT, right: MR, bottom: 0, left: 0 }}>
          <CartesianGrid vertical={false} horizontalValues={p.yMajor} stroke="#cbcbcb" strokeWidth={3} />
          <CartesianGrid horizontal={false} verticalValues={X_MAJOR} stroke="#b5b5b5" strokeWidth={1.5} />
          <XAxis type="number" dataKey="x" domain={[-1.4, 0.6]} ticks={X_TICKS} interval={0} allowDataOverflow
            height={XH} tick={XTick} tickSize={10} tickMargin={26}
            axisLine={{ stroke: AXIS, strokeWidth: 3 }} tickLine={{ stroke: AXIS, strokeWidth: 2 }} />
          <YAxis type="number" domain={[0, yMax]} ticks={minorOf(p.yMajor)} interval={0} allowDataOverflow
            width={YW} tick={makeYTick(p.yMajor)} tickSize={12} tickMargin={20}
            axisLine={{ stroke: AXIS, strokeWidth: 3 }} tickLine={{ stroke: AXIS, strokeWidth: 2 }} />
          {p.series.map((data, i) => (
            <Line key={i} data={data} dataKey="y" name={NAMES[i]} type="monotone" stroke={COLORS[i]}
              strokeWidth={9} dot={false} activeDot={false} isAnimationActive={false} />
          ))}
        </LineChart>
      </div>
      <div style={{ position: 'absolute', left: p.L - 168, top: p.T - 42, transform: 'translateY(-50%)',
        fontSize: 37, color: '#262626', whiteSpace: 'nowrap', lineHeight: 1 }}>
        {p.title}
      </div>
      <div style={{ position: 'absolute', left: p.L - 156, top: (p.T + p.B) / 2,
        transform: 'translate(-50%, -50%) rotate(-90deg)', fontSize: 36, fontWeight: 700, color: '#333',
        whiteSpace: 'nowrap', lineHeight: 1 }}>
        Δ<i>i</i>/μA
      </div>
      <div style={{ position: 'absolute', left: (p.L + p.R) / 2, top: p.B + 82, transform: 'translate(-50%, -50%)',
        fontSize: 35, color: TEXT, whiteSpace: 'nowrap', lineHeight: 1 }}>
        <i>E</i>/(V vs Ag/AgCl)
      </div>
    </>
  );
}

function CuLegend() {
  return (
    <div style={{ position: 'absolute', left: 268, top: 84, width: 620, height: 226, background: '#fff' }}>
      {NAMES.map((n, i) => (
        <div key={n} style={{ position: 'absolute', left: 5, top: 14 + i * 62 - 24, height: 48,
          display: 'flex', alignItems: 'center', whiteSpace: 'nowrap' }}>
          <span style={{ display: 'inline-block', width: 35, height: 7, background: COLORS[i], marginRight: 3 }} />
          <span style={{ fontSize: 45, color: '#1a1a1a', lineHeight: 1 }}>{n}</span>
        </div>
      ))}
    </div>
  );
}

export default function App() {
  return (
    <div style={{ position: 'absolute', left: 0, top: 0, width: 3817, height: 2169, background: '#fff',
      fontFamily: FONT, overflow: 'hidden' }}>
      {PANELS.map((p) => <Panel key={p.key} p={p} />)}
      <CuLegend />
    </div>
  );
}
